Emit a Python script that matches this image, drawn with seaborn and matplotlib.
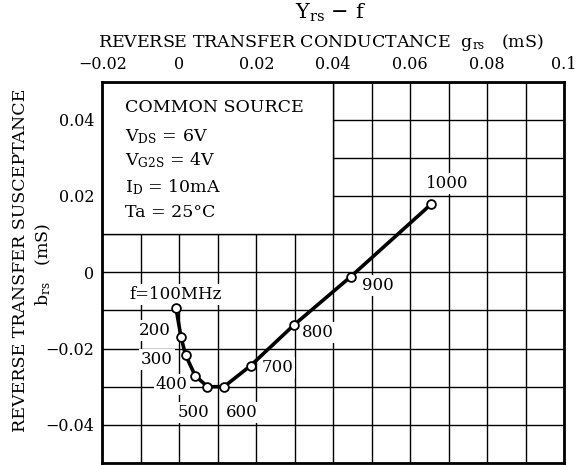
import matplotlib
matplotlib.use("Agg")
import matplotlib.pyplot as plt
import seaborn as sns
import pandas as pd
from matplotlib.patches import Rectangle

freq_labels = ["f=100MHz", "200", "300", "400", "500", "600", "700", "800", "900", "1000"]
g_rs = [-0.0009, 0.0004, 0.0016, 0.0041, 0.0073, 0.0116, 0.0185, 0.0298, 0.0445, 0.0654]
b_rs = [-0.0093, -0.0169, -0.0217, -0.0271, -0.0300, -0.0300, -0.0245, -0.0138, -0.0012, 0.0178]

x_ticks = [-0.02, 0, 0.02, 0.04, 0.06, 0.08, 0.1]
x_tick_labels = ["\u22120.02", "0", "0.02", "0.04", "0.06", "0.08", "0.1"]
y_ticks = [-0.04, -0.02, 0, 0.02, 0.04]
y_tick_labels = ["\u22120.04", "\u22120.02", "0", "0.02", "0.04"]

conditions = ["COMMON SOURCE", r"$\mathrm{V_{DS}}$ = 6V", r"$\mathrm{V_{G2S}}$ = 4V",
              r"$\mathrm{I_{D}}$ = 10mA", "Ta = 25\u00b0C"]

df = pd.DataFrame({"g": g_rs, "b": b_rs, "f": freq_labels})

sns.set_style("white")
plt.rcParams['font.family'] = ['DejaVu Serif']
plt.rcParams['mathtext.fontset'] = 'custom'
plt.rcParams['mathtext.rm'] = 'DejaVu Serif'
for k in ['text.color', 'xtick.color', 'ytick.color', 'axes.labelcolor']:
    plt.rcParams[k] = 'black'

fig = plt.figure(figsize=(5.78, 4.65), dpi=100)
ax = fig.add_axes([0.1773, 0.0043, 0.7985, 0.8204])

ax.set_xlim(-0.02, 0.1)
ax.set_ylim(-0.05, 0.05)

ax.set_xticks(x_ticks)
ax.set_xticklabels(x_tick_labels, fontsize=11.5)
ax.set_xticks([i * 0.01 - 0.02 for i in range(13)], minor=True)
ax.set_yticks(y_ticks)
ax.set_yticklabels(y_tick_labels, fontsize=11.5)
ax.set_yticks([i * 0.01 - 0.05 for i in range(11)], minor=True)
ax.xaxis.tick_top()
ax.tick_params(which='both', length=0, pad=6)
ax.grid(True, which='both', color='black', linewidth=1.0)
ax.set_axisbelow(True)
for s in ax.spines.values():
    s.set_linewidth(2)
    s.set_color('black')

# condition box
ax.add_patch(Rectangle((-0.02, 0.01), 0.06, 0.04, facecolor='white', edgecolor='black',
                       linewidth=1.0, zorder=1.5))
cond_y = [0.0431, 0.0355, 0.0295, 0.0224, 0.0156]
for t, yy in zip(conditions, cond_y):
    ax.text(-0.0142, yy, t, fontsize=12.5, va='center', ha='left', zorder=3)

sns.lineplot(data=df, x="g", y="b", sort=False, color='black', linewidth=2.6, ax=ax, zorder=5)
sns.scatterplot(data=df, x="g", y="b", s=40, facecolor='white', edgecolor='black',
                linewidth=1.3, ax=ax, zorder=6)
ax.set_xlabel("")
ax.set_ylabel("")

label_pos = [(-0.0010, -0.0058), (-0.0065, -0.0153), (-0.0059, -0.0229), (-0.0020, -0.0294),
             (0.0037, -0.0367), (0.0161, -0.0367), (0.0254, -0.0249), (0.0360, -0.0158),
             (0.0517, -0.0035), (0.0697, 0.0232)]
for t, (xx, yy) in zip(freq_labels, label_pos):
    ax.text(xx, yy, t, fontsize=12, ha='center', va='center', zorder=4,
            bbox=dict(facecolor='white', edgecolor='none', pad=1.5))

fig.text(0.571, 0.972, "$\\mathrm{Y_{rs}}$ \u2212 f", fontsize=15, ha='center', va='center')
fig.text(0.555, 0.908, r"REVERSE TRANSFER CONDUCTANCE  $\mathrm{g_{rs}}$   (mS)", fontsize=12.5,
         ha='center', va='center')
fig.text(0.036, 0.44, "REVERSE TRANSFER SUSCEPTANCE", fontsize=12.5, rotation=90,
         ha='center', va='center')
fig.text(0.075, 0.43, r"$\mathrm{b_{rs}}$   (mS)", fontsize=12.5, rotation=90,
         ha='center', va='center')

fig.savefig("out.png", dpi=100)
